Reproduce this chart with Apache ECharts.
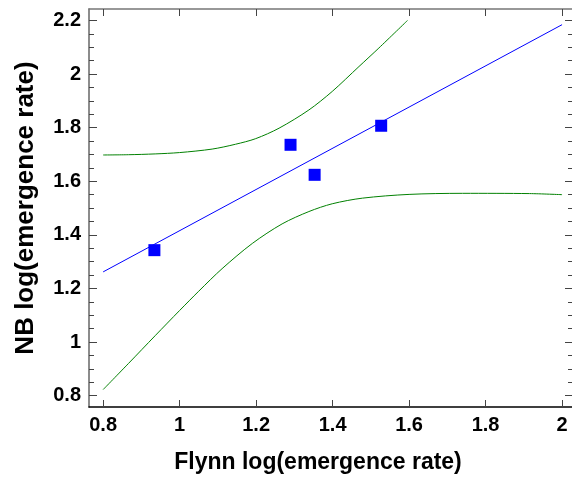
<!DOCTYPE html>
<html>
<head>
<meta charset="utf-8">
<script src="https://cdn.jsdelivr.net/npm/echarts@6/dist/echarts.min.js"></script>
<style>
  html, body { margin: 0; padding: 0; background: #fff; }
  #chart { width: 572px; height: 483px; }
</style>
</head>
<body>
<div id="chart"></div>
<script>
// observed points
const flynnObs = [0.934, 1.290, 1.353, 1.527]
const nbObs = [1.343, 1.736, 1.624, 1.807]

// fitted line
const fitX = [0.8, 2.0]
const fitY = [1.262, 2.184]

// upper band
const upperX = [0.8, 0.866, 0.936, 1.0, 1.085, 1.146, 1.199, 1.26, 1.338, 1.399, 1.469, 1.521, 1.596]
const upperY = [1.698, 1.699, 1.702, 1.707, 1.720, 1.738, 1.759, 1.798, 1.866, 1.935, 2.028, 2.097, 2.2]

// lower band
const lowerX = [0.8, 0.866, 0.936, 1.0, 1.05, 1.111, 1.19, 1.268, 1.338, 1.399, 1.478, 1.6, 1.74, 1.915, 2.0]
const lowerY = [0.823, 0.920, 1.024, 1.118, 1.190, 1.274, 1.368, 1.441, 1.487, 1.516, 1.537, 1.551, 1.555, 1.554, 1.550]

// ticks
const xTicks = [0.8, 1, 1.2, 1.4, 1.6, 1.8, 2]
const yTicks = [0.8, 1, 1.2, 1.4, 1.6, 1.8, 2, 2.2]
const yMinorTicks = [0.8, 0.85, 0.9, 0.95, 1, 1.05, 1.1, 1.15, 1.2, 1.25, 1.3, 1.35, 1.4, 1.45, 1.5, 1.55,
  1.6, 1.65, 1.7, 1.75, 1.8, 1.85, 1.9, 1.95, 2, 2.05, 2.1, 2.15, 2.2]

const xMin = 0.763, xMax = 2.026
const yMin = 0.758, yMax = 2.2425

const font = 'Liberation Sans, Arial, sans-serif'
const pair = (xs, ys) => xs.map((x, i) => [x, ys[i]])

const chart = echarts.init(document.getElementById('chart'))

const yAxisBase = (position, values, len, withLabel) => ({
  type: 'value',
  position: position,
  min: yMin,
  max: yMax,
  splitLine: { show: false },
  axisLine: { show: withLabel, onZero: false, lineStyle: { color: '#666', width: 1.5 } },
  axisTick: { inside: true, length: len, customValues: values, lineStyle: { color: '#444' } },
  axisLabel: withLabel
    ? { customValues: yTicks, color: '#000', fontSize: 20, fontWeight: 'bold', fontFamily: font, margin: 8 }
    : { show: false }
})

chart.setOption({
  animation: false,
  grid: { left: 89, top: 9, right: 0, bottom: 76, containLabel: false },
  xAxis: [
    {
      type: 'value',
      position: 'bottom',
      min: xMin,
      max: xMax,
      name: 'Flynn log(emergence rate)',
      nameLocation: 'middle',
      nameGap: 44,
      nameTextStyle: { color: '#000', fontSize: 23, fontWeight: 'bold', fontFamily: font, padding: [0, 25, 0, 0] },
      splitLine: { show: false },
      axisLine: { onZero: false, lineStyle: { color: '#000', width: 1.5 } },
      axisTick: { inside: true, length: 7, customValues: xTicks, lineStyle: { color: '#444' } },
      axisLabel: { customValues: xTicks, color: '#000', fontSize: 20, fontWeight: 'bold', fontFamily: font, margin: 8 }
    },
    {
      type: 'value',
      position: 'top',
      min: xMin,
      max: xMax,
      splitLine: { show: false },
      axisLine: { onZero: false, lineStyle: { color: '#777', width: 1.5 } },
      axisTick: { inside: true, length: 7, customValues: xTicks, lineStyle: { color: '#444' } },
      axisLabel: { show: false }
    }
  ],
  yAxis: [
    Object.assign(yAxisBase('left', yTicks, 8, true), {
      name: 'NB log(emergence rate)',
      nameLocation: 'middle',
      nameGap: 50,
      nameTextStyle: { color: '#000', fontSize: 26, fontWeight: 'bold', fontFamily: font }
    }),
    yAxisBase('left', yMinorTicks, 5, false),
    yAxisBase('right', yTicks, 7, false),
    yAxisBase('right', yMinorTicks, 4, false)
  ],
  series: [
    {
      type: 'line',
      data: pair(upperX, upperY),
      smooth: 0.3,
      symbol: 'none',
      lineStyle: { color: '#008000', width: 1 }
    },
    {
      type: 'line',
      data: pair(lowerX, lowerY),
      smooth: 0.3,
      symbol: 'none',
      lineStyle: { color: '#008000', width: 1 }
    },
    {
      type: 'line',
      data: pair(fitX, fitY),
      symbol: 'none',
      lineStyle: { color: '#0000ff', width: 1 }
    },
    {
      type: 'scatter',
      data: pair(flynnObs, nbObs),
      symbol: 'rect',
      symbolSize: 12,
      itemStyle: { color: '#0000ff', opacity: 1 }
    }
  ]
})
</script>
</body>
</html>
